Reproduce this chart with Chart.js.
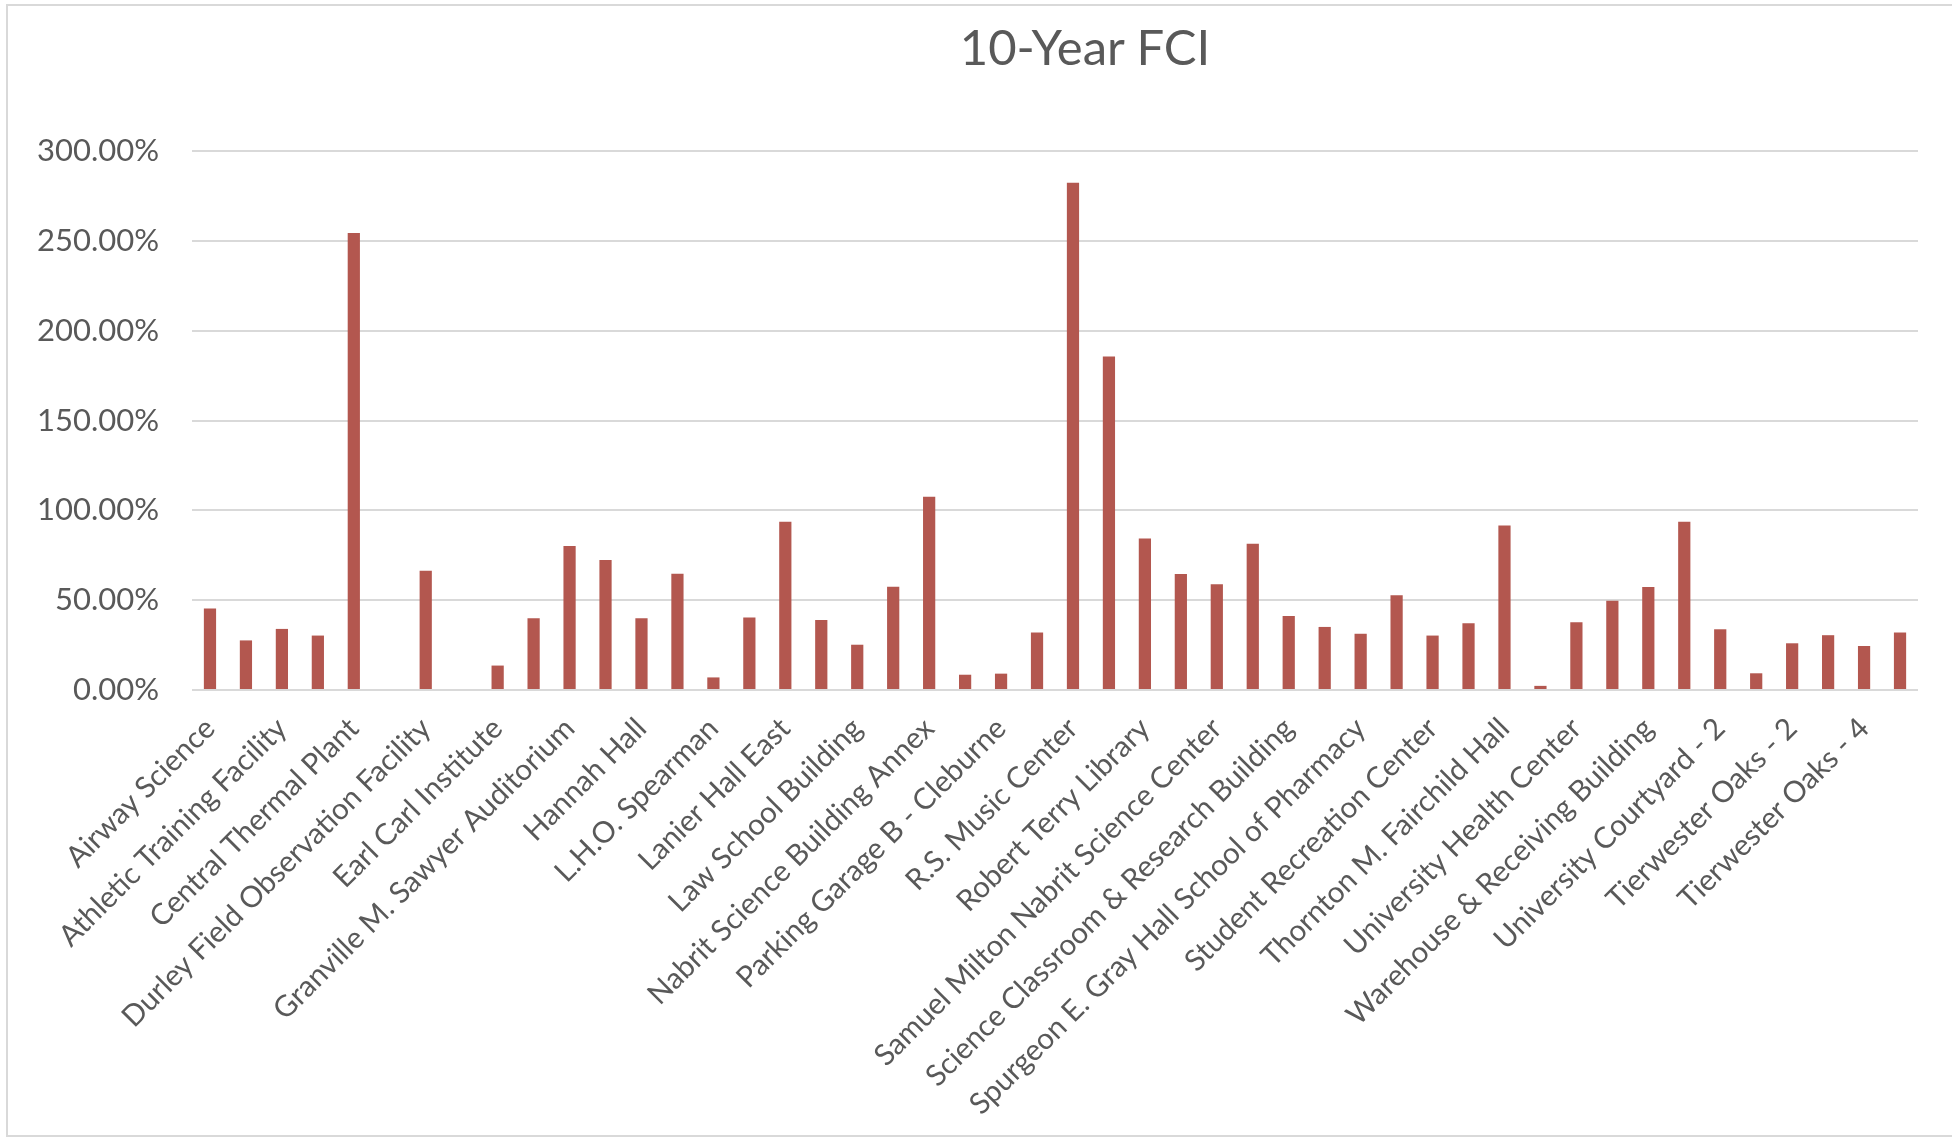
<!DOCTYPE html>
<html>
<head>
<meta charset="utf-8">
<script src="https://cdn.jsdelivr.net/npm/chart.js@4/dist/chart.umd.min.js"></script>
<style>
  html, body { margin: 0; padding: 0; background: #fff; }
  #wrap { position: relative; width: 1952px; height: 1141px; overflow: hidden; }
  #frame { position: absolute; left: 6px; top: 4px; width: 1960px; height: 1133px; border: 2px solid #D9D9D9; box-sizing: border-box; }
  #title { position: absolute; left: 1085px; top: 46px; transform: translate(-50%, -50%); font-family: Lato, 'Open Sans', sans-serif; font-size: 49px; color: #595959; white-space: nowrap; line-height: 1; }
  canvas { position: absolute; left: 0; top: 0; }
</style>
</head>
<body>
<div id="wrap">
  <div id="frame"></div>
  <canvas id="c" width="1952" height="1141"></canvas>
  <div id="title"></div>
</div>
<script>
// Categories (Excel shows every other label; the in-between names are not visible in the source)
const categories = [
  "Airway Science", "",
  "Athletic Training Facility", "",
  "Central Thermal Plant", "",
  "Durley Field Observation Facility", "",
  "Earl Carl Institute", "",
  "Granville M. Sawyer Auditorium", "",
  "Hannah Hall", "",
  "L.H.O. Spearman", "",
  "Lanier Hall East", "",
  "Law School Building", "",
  "Nabrit Science Building Annex", "",
  "Parking Garage B - Cleburne", "",
  "R.S. Music Center", "",
  "Robert Terry Library", "",
  "Samuel Milton Nabrit Science Center", "",
  "Science Classroom & Research Building", "",
  "Spurgeon E. Gray Hall School of Pharmacy", "",
  "Student Recreation Center", "",
  "Thornton M. Fairchild Hall", "",
  "University Health Center", "",
  "Warehouse & Receiving Building", "",
  "University Courtyard - 2", "",
  "Tierwester Oaks - 2", "",
  "Tierwester Oaks - 4", ""
];

// 10-Year FCI values (%)
const fciValues = [
  45.4, 27.6, 34.0, 30.3, 254.4, 0, 66.4, 0,
  13.6, 40.0, 80.2, 72.4, 40.0, 64.7, 7.0, 40.4,
  93.6, 39.0, 25.2, 57.5, 107.6, 8.5, 9.1, 32.0,
  282.3, 185.6, 84.3, 64.5, 58.8, 81.4, 41.2, 35.1,
  31.3, 52.8, 30.3, 37.1, 91.5, 2.3, 37.7, 49.7,
  57.3, 93.6, 33.8, 9.3, 26.0, 30.5, 24.5, 32.0
];

const yTicks = [0, 50, 100, 150, 200, 250, 300];
const chartTitle = "10-Year FCI";

document.getElementById("title").textContent = chartTitle;

const textColor = "#595959";
const fontFamily = "Lato, 'Open Sans', sans-serif";

new Chart(document.getElementById("c"), {
  type: "bar",
  data: {
    labels: categories,
    datasets: [{
      label: chartTitle,
      data: fciValues,
      backgroundColor: "#B3574F",
      borderWidth: 0,
      barPercentage: 0.34,
      categoryPercentage: 1.0
    }]
  },
  options: {
    responsive: false,
    animation: false,
    devicePixelRatio: 1,
    layout: { padding: { left: 0, right: 34, top: 151, bottom: 0 } },
    plugins: {
      legend: { display: false },
      tooltip: { enabled: false },
      title: { display: false }
    },
    scales: {
      x: {
        grid: { display: false },
        border: { display: false },
        ticks: {
          autoSkip: false,
          minRotation: 45,
          maxRotation: 45,
          color: textColor,
          font: { family: fontFamily, size: 29.5 },
          padding: 13
        },
        afterFit: (s) => { s.height = 451; }
      },
      y: {
        min: 0,
        max: 300,
        afterBuildTicks: (s) => { s.ticks = yTicks.map(v => ({ value: v })); },
        grid: { color: "#D9D9D9", lineWidth: 2, drawTicks: false },
        border: { display: false },
        ticks: {
          color: textColor,
          font: { family: fontFamily, size: 31 },
          padding: 33,
          callback: (v) => Number(v).toFixed(2) + "%"
        },
        afterFit: (s) => { s.width = 192; }
      }
    }
  }
});
</script>
</body>
</html>
